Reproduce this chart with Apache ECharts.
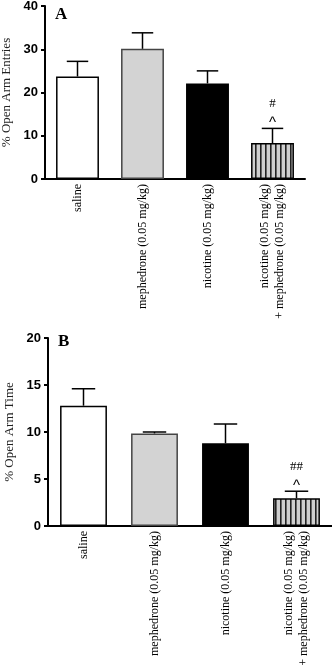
<!DOCTYPE html>
<html>
<head>
<meta charset="utf-8">
<script src="https://cdn.jsdelivr.net/npm/echarts@6/dist/echarts.min.js"></script>
<style>
  html, body { margin: 0; padding: 0; background: #fff; }
  #chart { width: 332px; height: 665px; }
</style>
</head>
<body>
<div id="chart"></div>
<script>
// groups on the x axis
var categories = [
  'saline',
  'mephedrone (0.05 mg/kg)',
  'nicotine (0.05 mg/kg)',
  'nicotine (0.05 mg/kg)\n+ mephedrone (0.05 mg/kg)'
];

// panel A: % open arm entries, mean and SEM
var entriesMean = [23.7, 30.1, 22.1, 8.3];
var entriesSem = [3.5, 3.7, 2.9, 3.4];
var entriesCaret = ['', '', '', '^'];
var entriesHash = ['', '', '', '#'];

// panel B: % open arm time, mean and SEM
var timeMean = [12.8, 9.85, 8.8, 2.95];
var timeSem = [1.8, 0.15, 2.05, 0.75];
var timeCaret = ['', '', '', '^'];
var timeHash = ['', '', '', '##'];

var entriesTicks = [0, 10, 20, 30, 40];
var timeTicks = [0, 5, 10, 15, 20];

// vertical stripe fill for the combined group
var stripe = document.createElement('canvas');
stripe.width = 5;
stripe.height = 10;
var sctx = stripe.getContext('2d');
sctx.fillStyle = '#cfcfcf';
sctx.fillRect(0, 0, 5, 10);
sctx.fillStyle = '#222';
sctx.fillRect(0, 0, 1.6, 10);

var fills = [
  { color: '#ffffff', borderColor: '#000' },
  { color: '#d3d3d3', borderColor: '#444' },
  { color: '#000000', borderColor: '#000' },
  { color: { image: stripe, repeat: 'repeat' }, borderColor: '#000' }
];

function barData(values) {
  return values.map(function (v, i) {
    return {
      value: v,
      itemStyle: { color: fills[i].color, borderColor: fills[i].borderColor, borderWidth: 1.5 }
    };
  });
}

function errData(means, sems, carets, hashes) {
  return means.map(function (m, i) {
    return [i, m, sems[i], carets[i], hashes[i]];
  });
}

// upper error bar with cap, plus significance marks above it
function renderErr(params, api) {
  var i = api.value(0);
  var m = api.value(1);
  var s = api.value(2);
  var caret = api.value(3);
  var hash = api.value(4);
  var base = api.coord([i, m]);
  var top = api.coord([i, m + s]);
  var half = api.size([1, 0])[0] * 0.66 / 4;
  var style = { stroke: '#000', lineWidth: 1.5 };
  var children = [
    { type: 'line', shape: { x1: base[0], y1: base[1], x2: top[0], y2: top[1] }, style: style },
    { type: 'line', shape: { x1: top[0] - half, y1: top[1], x2: top[0] + half, y2: top[1] }, style: style }
  ];
  if (caret) {
    children.push({
      type: 'text',
      style: { text: caret, x: top[0], y: top[1] + 2, align: 'center', verticalAlign: 'bottom',
        font: '15px "Liberation Sans"', fill: '#000' }
    });
  }
  if (hash) {
    children.push({
      type: 'text',
      style: { text: hash, x: top[0], y: top[1] - 25, align: 'center', verticalAlign: 'middle',
        font: '13px "Liberation Serif"', fill: '#000' }
    });
  }
  return { type: 'group', children: children };
}

var axisLineStyle = { lineStyle: { color: '#000', width: 2 } };

function xAxisFor(gridIndex) {
  return {
    type: 'category',
    gridIndex: gridIndex,
    data: categories,
    axisLine: axisLineStyle,
    axisTick: { show: false },
    axisLabel: {
      rotate: 90,
      interval: 0,
      margin: 5,
      fontFamily: 'Liberation Serif',
      fontSize: 12,
      lineHeight: 15,
      color: '#000'
    }
  };
}

function yAxisFor(gridIndex, ticks, name, gap) {
  return {
    type: 'value',
    gridIndex: gridIndex,
    min: ticks[0],
    max: ticks[ticks.length - 1],
    interval: ticks[1] - ticks[0],
    name: name,
    nameLocation: 'middle',
    nameGap: gap,
    nameTextStyle: { fontFamily: 'Liberation Serif', fontSize: 13, color: '#222' },
    axisLine: { show: true, lineStyle: { color: '#000', width: 2 } },
    axisTick: { show: true, length: 4, lineStyle: { color: '#000', width: 2 } },
    axisLabel: { margin: 7, fontFamily: 'Liberation Sans', fontWeight: 'bold', fontSize: 13, color: '#000' },
    splitLine: { show: false }
  };
}

var myChart = echarts.init(document.getElementById('chart'));
var option = {
  animation: false,
  backgroundColor: '#fff',
  title: [
    { text: 'A', left: 55, top: 6, padding: 0,
      textStyle: { fontFamily: 'Liberation Serif', fontWeight: 'bold', fontSize: 17, color: '#000' } },
    { text: 'B', left: 58, top: 333, padding: 0,
      textStyle: { fontFamily: 'Liberation Serif', fontWeight: 'bold', fontSize: 17, color: '#000' } }
  ],
  grid: [
    { left: 45, top: 6, width: 260, height: 173, outerBoundsMode: 'none' },
    { left: 48, top: 338, width: 284, height: 188, outerBoundsMode: 'none' }
  ],
  xAxis: [xAxisFor(0), xAxisFor(1)],
  yAxis: [
    yAxisFor(0, entriesTicks, '% Open Arm Entries', 30),
    yAxisFor(1, timeTicks, '% Open Arm Time', 27)
  ],
  series: [
    { type: 'bar', xAxisIndex: 0, yAxisIndex: 0, barWidth: '66%', data: barData(entriesMean) },
    { type: 'custom', xAxisIndex: 0, yAxisIndex: 0, renderItem: renderErr,
      encode: { x: 0, y: 1 }, data: errData(entriesMean, entriesSem, entriesCaret, entriesHash), z: 5 },
    { type: 'bar', xAxisIndex: 1, yAxisIndex: 1, barWidth: '66%', data: barData(timeMean) },
    { type: 'custom', xAxisIndex: 1, yAxisIndex: 1, renderItem: renderErr,
      encode: { x: 0, y: 1 }, data: errData(timeMean, timeSem, timeCaret, timeHash), z: 5 }
  ]
};
myChart.setOption(option);
</script>
</body>
</html>
